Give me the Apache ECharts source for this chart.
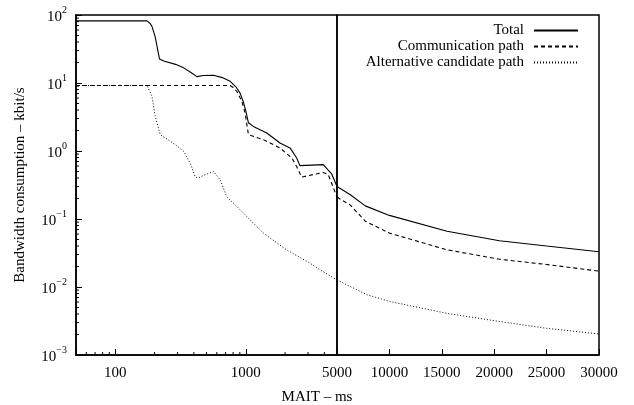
<!DOCTYPE html>
<html><head><meta charset="utf-8">
<script src="https://cdn.jsdelivr.net/npm/echarts@6/dist/echarts.min.js"></script>
<style>html,body{margin:0;padding:0;background:#fff}#c{width:634px;height:405px}</style>
</head><body><div id="c"></div>
<script>
// ---- data ----
const seriesNames = ['Total', 'Communication path', 'Alternative candidate path'];

const totalX = [50, 175, 185, 191, 202, 212, 218, 238, 290, 334, 380, 422, 474, 565, 660, 759, 840, 904, 960, 1000, 1048, 1143, 1449, 1828, 2183, 2455, 2600, 3926, 4300, 4550, 5000, 6270, 7700, 10000, 15500, 20500, 25000, 30000];
const totalY = [82, 82, 75, 68, 48, 30, 22.6, 20.9, 18.8, 16.7, 14.3, 12.4, 12.9, 13.0, 12.0, 10.6, 8.8, 7.1, 5.2, 3.9, 2.6, 2.3, 1.84, 1.31, 1.11, 0.79, 0.61, 0.63, 0.52, 0.46, 0.30, 0.227, 0.156, 0.113, 0.066, 0.048, 0.040, 0.033];

const commX = [50, 759, 800, 853, 931, 988, 1029, 1048, 1248, 1365, 1828, 2250, 2455, 2680, 3926, 4290, 5000, 6270, 7700, 10000, 15500, 20500, 25000, 30000];
const commY = [9.17, 9.17, 8.6, 7.55, 5.4, 3.63, 2.18, 1.74, 1.55, 1.47, 1.11, 0.79, 0.59, 0.414, 0.484, 0.448, 0.21, 0.16, 0.093, 0.062, 0.0352, 0.0256, 0.0214, 0.0171];

const altX = [50, 175, 191, 202, 221, 249, 288, 334, 375, 409, 430, 489, 565, 636, 716, 759, 853, 1048, 1365, 2060, 3105, 3700, 5000, 7857, 10076, 15476, 20552, 25000, 30000];
const altY = [9.17, 9.17, 6.4, 3.3, 1.74, 1.50, 1.24, 0.99, 0.665, 0.42, 0.40, 0.448, 0.50, 0.377, 0.21, 0.19, 0.153, 0.103, 0.062, 0.035, 0.0224, 0.0179, 0.0127, 0.0077, 0.0061, 0.0041, 0.0031, 0.00247, 0.00204];

const xLogLabels = [100, 1000];
const xLinTicks = [5000, 10000, 15000, 20000, 25000, 30000];
const yDecades = [0.001, 0.01, 0.1, 1, 10, 100];
const xMinorTicks = [60, 70, 80, 90, 200, 300, 400, 500, 600, 700, 800, 900, 2000, 3000, 4000];
const minorFactors = [2, 3, 4, 5, 6, 7, 8, 9];

// ---- build ----
const SPLIT = 5000;
function part(xs, ys, left) {
  const out = [];
  for (let i = 0; i < xs.length; i++) {
    if (left ? xs[i] <= SPLIT : xs[i] >= SPLIT) out.push([xs[i], ys[i]]);
  }
  return out;
}
const styles = [
  { color: '#000', width: 1.1, type: 'solid' },
  { color: '#000', width: 1.1, type: [4, 3] },
  { color: '#000', width: 1, type: [1, 2] }
];
const allData = [[totalX, totalY], [commX, commY], [altX, altY]];

const series = [];
for (let g = 0; g < 2; g++) {
  allData.forEach((d, i) => {
    series.push({
      type: 'line', name: seriesNames[i],
      xAxisIndex: g, yAxisIndex: g,
      data: part(d[0], d[1], g === 0),
      showSymbol: false, symbol: 'none', smooth: false,
      lineStyle: styles[i], itemStyle: { color: '#000' },
      animation: false, silent: true, z: 3
    });
  });
}

// minor ticks
const tickData = [];
for (let k = 0; k < yDecades.length - 1; k++) {
  minorFactors.forEach(f => tickData.push([50, yDecades[k] * f, 0]));
}
xMinorTicks.forEach(v => tickData.push([v, 0.001, 1]));
series.push({
  type: 'custom', xAxisIndex: 0, yAxisIndex: 0, silent: true, animation: false,
  clip: false, z: 4,
  data: tickData,
  renderItem: function (params, api) {
    const p = api.coord([api.value(0), api.value(1)]);
    const kind = api.value(2);
    const len = 3;
    const shape = kind === 0
      ? { x1: p[0], y1: p[1], x2: p[0] + len, y2: p[1] }
      : { x1: p[0], y1: p[1], x2: p[0], y2: p[1] - len };
    return { type: 'line', shape: shape, style: { stroke: '#000', lineWidth: 1 } };
  }
});

const FONT = 'Liberation Serif';
const gridTop = 15, gridBottom = 50;

function legendFor(name, top) {
  return {
    data: [name], right: 55, top: top, orient: 'vertical', align: 'right',
    itemWidth: 44, itemHeight: 14, padding: 0, selectedMode: false,
    itemStyle: { color: 'rgba(0,0,0,0)', borderWidth: 0, opacity: 0 },
    textStyle: { fontFamily: FONT, fontSize: 15, color: '#000', padding: [0, 5, 0, 0] }
  };
}

const option = {
  backgroundColor: '#fff',
  animation: false,
  legend: [legendFor(seriesNames[0], 23), legendFor(seriesNames[1], 39), legendFor(seriesNames[2], 55)],
  grid: [
    { left: 76, width: 261, top: gridTop, bottom: gridBottom, show: true, borderColor: '#000', borderWidth: 1.5 },
    { left: 337, right: 35, top: gridTop, bottom: gridBottom, show: true, borderColor: '#000', borderWidth: 1.5 }
  ],
  xAxis: [
    {
      gridIndex: 0, type: 'log', logBase: 10, min: 50, max: 5000,
      axisLine: { show: true, lineStyle: { color: '#000', width: 1.5 } },
      axisTick: { show: true, inside: true, length: 6, lineStyle: { color: '#000', width: 1 } },
      axisLabel: {
        fontFamily: FONT, fontSize: 15, color: '#000', margin: 11,
        showMinLabel: true, showMaxLabel: true,
        formatter: function (v) {
          for (const t of xLogLabels) if (Math.abs(v - t) < 0.5) return String(t);
          return '';
        }
      },
      splitLine: { show: false }
    },
    {
      gridIndex: 1, type: 'value', min: xLinTicks[0], max: xLinTicks[xLinTicks.length - 1], interval: 5000,
      axisLine: { show: true, lineStyle: { color: '#000', width: 1.5 } },
      axisTick: { show: true, inside: true, length: 6, lineStyle: { color: '#000', width: 1 } },
      axisLabel: {
        fontFamily: FONT, fontSize: 15, color: '#000', margin: 11, showMinLabel: true, showMaxLabel: true,
        formatter: function (v) { return String(Math.round(v)); }
      },
      splitLine: { show: false }
    }
  ],
  yAxis: [
    {
      gridIndex: 0, type: 'log', logBase: 10, min: yDecades[0], max: yDecades[yDecades.length - 1],
      name: 'Bandwidth consumption – kbit/s', nameLocation: 'middle', nameGap: 48, nameRotate: 90,
      nameTextStyle: { fontFamily: FONT, fontSize: 15, color: '#000' },
      axisLine: { show: true, lineStyle: { color: '#000', width: 1.5 } },
      axisTick: { show: true, inside: true, length: 6, lineStyle: { color: '#000', width: 1 } },
      axisLabel: {
        margin: 9, color: '#000',
        formatter: function (v) {
          const e = Math.round(Math.log10(v));
          return '{b|10}{s|' + (e < 0 ? '−' + (-e) : String(e)) + '}';
        },
        rich: {
          b: { fontFamily: FONT, fontSize: 15, color: '#000', lineHeight: 20, verticalAlign: 'bottom' },
          s: { fontFamily: FONT, fontSize: 10, color: '#000', lineHeight: 10, verticalAlign: 'top' }
        }
      },
      splitLine: { show: false }
    },
    {
      gridIndex: 1, type: 'log', logBase: 10, min: yDecades[0], max: yDecades[yDecades.length - 1],
      axisLine: { show: false }, axisTick: { show: false }, axisLabel: { show: false }, splitLine: { show: false }
    }
  ],
  graphic: [{
    type: 'text', left: 'center', top: 390,
    style: { text: 'MAIT – ms', fontFamily: FONT, fontSize: 15, fill: '#000' }
  }],
  series: series
};

const chart = echarts.init(document.getElementById('c'), null, { renderer: 'canvas' });
chart.setOption(option);
</script>
</body></html>
